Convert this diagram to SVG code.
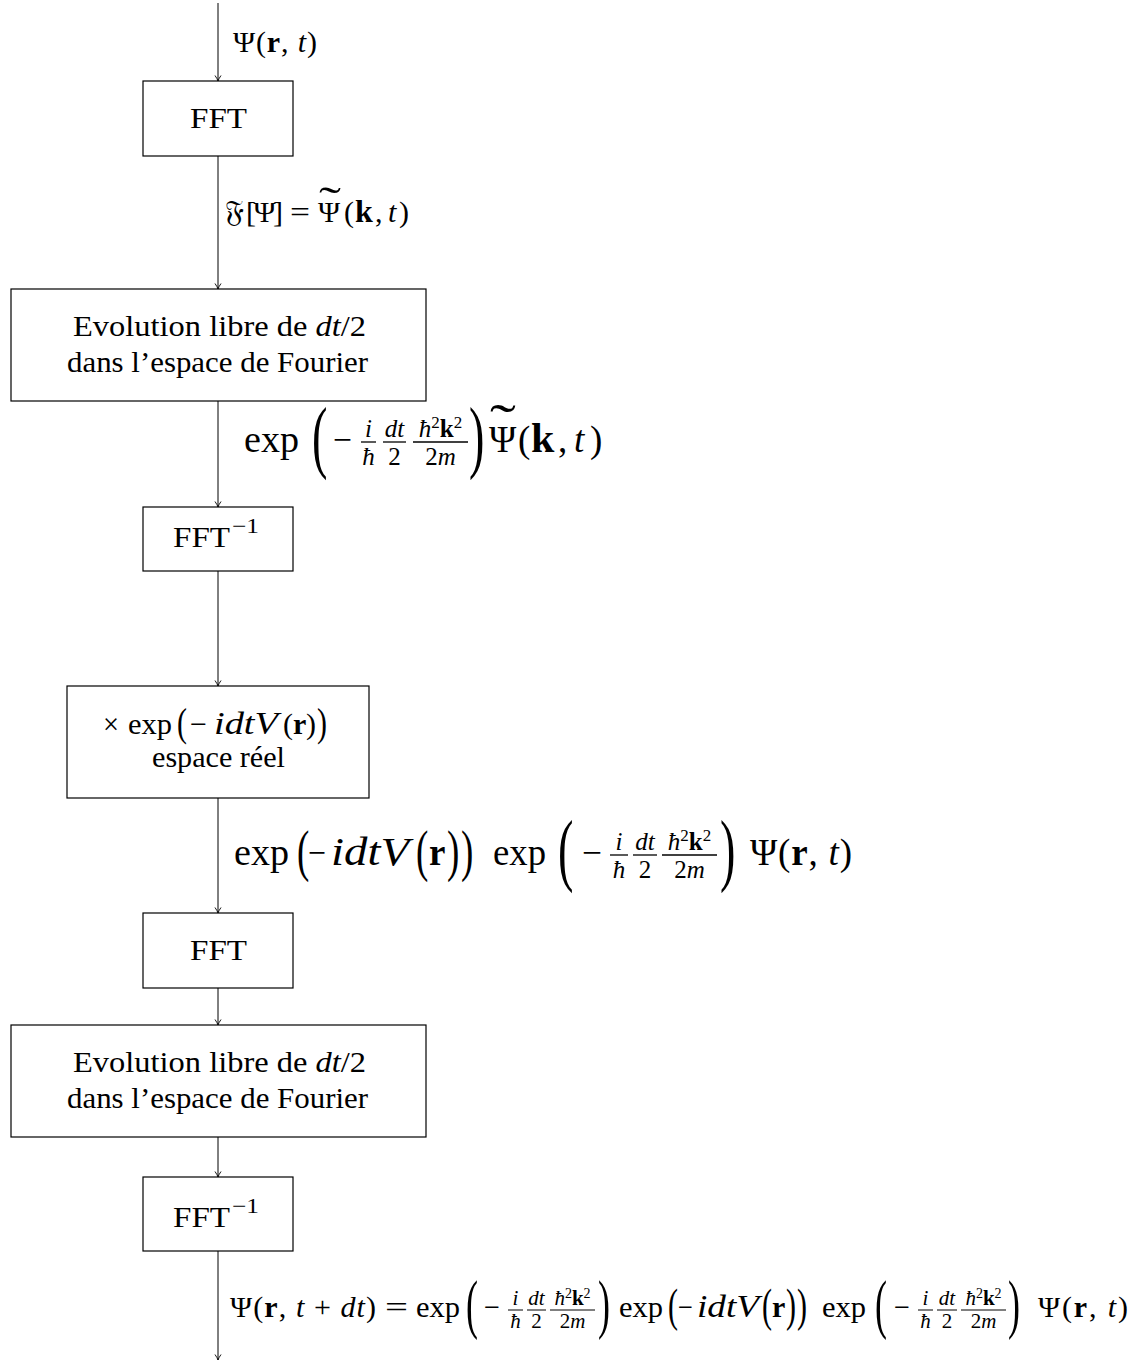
<svg xmlns="http://www.w3.org/2000/svg" width="1135" height="1362" viewBox="0 0 1135 1362">
<defs>
<style>
text{font-family:"Liberation Serif","DejaVu Serif",serif;fill:#000}
.n{font-size:30px}
.L{font-size:37px}
.fr{font-size:25px}
.fs{font-size:21px}
.sup{font-size:17px}
.sups{font-size:14px}
.it{font-style:italic}
.bf{font-weight:bold}
.box{fill:#fff;stroke:#000;stroke-width:1.2}
.edge{stroke:#000;stroke-width:1;fill:none;marker-end:url(#arr)}
.bar{stroke:#000;stroke-width:1.3}
.bar2{stroke:#000;stroke-width:1}
</style>
<marker id="arr" viewBox="-7 -4 8 8" refX="0" refY="0" markerWidth="8" markerHeight="8" markerUnits="userSpaceOnUse" orient="auto">
<path d="M-5.5,-3 Q-2,-0.6 0,0 Q-2,0.6 -5.5,3" fill="none" stroke="#000" stroke-width="0.9"/>
</marker>
</defs>
<rect width="1135" height="1362" fill="#fff"/>

<g id="connectors">
 <g id="e1">
  <line class="edge" x1="218" y1="3" x2="218" y2="81"/>
  <text class="n" x="233" y="52" textLength="84" lengthAdjust="spacing">Ψ(<tspan class="bf">r</tspan>, <tspan class="it">t</tspan>)</text>
 </g>
 <g id="e2">
  <line class="edge" x1="218" y1="156" x2="218" y2="289"/>
  <text class="n" x="225" y="222">𝔉</text>
  <text class="n" x="246" y="222" textLength="37" lengthAdjust="spacing">[Ψ]</text>
  <text class="n" x="290" y="222" textLength="20" lengthAdjust="spacingAndGlyphs">=</text>
  <text class="n" x="318" y="222">Ψ</text>
  <text class="n" text-anchor="middle" transform="translate(330,190) scale(2.2,1.4)" x="0" y="18.6">˜</text>
  <text class="n" y="222"><tspan x="344">(</tspan><tspan x="355" class="bf" font-size="32">k</tspan><tspan x="375">,</tspan><tspan x="388" class="it">t</tspan><tspan x="399">)</tspan></text>
 </g>
 <g id="e3">
  <line class="edge" x1="218" y1="401" x2="218" y2="507"/>
  <text class="L" x="244" y="452" textLength="55" lengthAdjust="spacingAndGlyphs">exp</text>
  <text class="L" transform="translate(312,443) scale(1.25,2.15)" x="0" y="9.2">(</text>
  <text class="L" x="333" y="452" textLength="19" lengthAdjust="spacingAndGlyphs">−</text>
  <line class="bar" x1="361" y1="442" x2="376" y2="442"/>
  <text class="fr it" text-anchor="middle" x="368.5" y="437">i</text>
  <text class="fr it" text-anchor="middle" x="368.5" y="465">ħ</text>
  <line class="bar" x1="383" y1="442" x2="406" y2="442"/>
  <text class="fr it" text-anchor="middle" x="394.5" y="437">dt</text>
  <text class="fr" text-anchor="middle" x="394.5" y="465">2</text>
  <line class="bar" x1="413" y1="442" x2="468" y2="442"/>
  <text class="fr" text-anchor="middle" x="440.5" y="437"><tspan class="it">ħ</tspan><tspan class="sup" dy="-9">2</tspan><tspan class="bf" dy="9">k</tspan><tspan class="sup" dy="-9">2</tspan></text>
  <text class="fr" text-anchor="middle" x="440.5" y="465">2<tspan class="it">m</tspan></text>
  <text class="L" transform="translate(469,443) scale(1.25,2.15)" x="0" y="9.2">)</text>
  <text class="L" x="489" y="452">Ψ</text>
  <text class="L" text-anchor="middle" transform="translate(503,409) scale(2.1,1.4)" x="0" y="22.9">˜</text>
  <text class="L" y="452"><tspan x="518">(</tspan><tspan x="531" class="bf" font-size="42">k</tspan><tspan x="558">,</tspan><tspan x="574" class="it">t</tspan><tspan x="590">)</tspan></text>
 </g>
 <g id="e4">
  <line class="edge" x1="218" y1="571" x2="218" y2="686"/>
 </g>
 <g id="e5">
  <line class="edge" x1="218" y1="798" x2="218" y2="913"/>
  <text class="L" x="234" y="865" textLength="55" lengthAdjust="spacingAndGlyphs">exp</text>
  <text class="L" transform="translate(297,856) scale(1,1.52)" x="0" y="9.2">(</text>
  <text class="L" x="308" y="865" textLength="18" lengthAdjust="spacingAndGlyphs">−</text>
  <text class="it" font-size="40" x="331" y="865" textLength="78" lengthAdjust="spacingAndGlyphs">idtV</text>
  <text class="L" transform="translate(416,856) scale(1,1.52)" x="0" y="9.2">(</text>
  <text class="L bf" x="429" y="865">r</text>
  <text class="L" transform="translate(447,856) scale(1,1.52)" x="0" y="9.2">)</text>
  <text class="L" transform="translate(461,856) scale(1,1.52)" x="0" y="9.2">)</text>
  <text class="L" x="493" y="865" textLength="53" lengthAdjust="spacingAndGlyphs">exp</text>
  <text class="L" transform="translate(558,856) scale(1.25,2.2)" x="0" y="9.2">(</text>
  <text class="L" x="582" y="865" textLength="20" lengthAdjust="spacingAndGlyphs">−</text>
  <line class="bar" x1="610" y1="855" x2="628" y2="855"/>
  <text class="fr it" text-anchor="middle" x="619" y="850">i</text>
  <text class="fr it" text-anchor="middle" x="619" y="878">ħ</text>
  <line class="bar" x1="633" y1="855" x2="657" y2="855"/>
  <text class="fr it" text-anchor="middle" x="645" y="850">dt</text>
  <text class="fr" text-anchor="middle" x="645" y="878">2</text>
  <line class="bar" x1="662" y1="855" x2="717" y2="855"/>
  <text class="fr" text-anchor="middle" x="689.5" y="850"><tspan class="it">ħ</tspan><tspan class="sup" dy="-9">2</tspan><tspan class="bf" dy="9">k</tspan><tspan class="sup" dy="-9">2</tspan></text>
  <text class="fr" text-anchor="middle" x="689.5" y="878">2<tspan class="it">m</tspan></text>
  <text class="L" transform="translate(720,856) scale(1.25,2.2)" x="0" y="9.2">)</text>
  <text class="L" x="750" y="865" textLength="102" lengthAdjust="spacing">Ψ(<tspan class="bf">r</tspan>, <tspan class="it">t</tspan>)</text>
 </g>
 <g id="e6">
  <line class="edge" x1="218" y1="988" x2="218" y2="1025"/>
 </g>
 <g id="e7">
  <line class="edge" x1="218" y1="1137" x2="218" y2="1177"/>
 </g>
 <g id="e8">
  <line class="edge" x1="218" y1="1251" x2="218" y2="1360"/>
  <text class="n" x="230" y="1317" textLength="146" lengthAdjust="spacing">Ψ(<tspan class="bf">r</tspan>, <tspan class="it">t</tspan> + <tspan class="it">dt</tspan>)</text>
  <text class="n" x="385" y="1317" textLength="23" lengthAdjust="spacingAndGlyphs">=</text>
  <text class="n" x="416" y="1317" textLength="44" lengthAdjust="spacingAndGlyphs">exp</text>
  <text class="n" transform="translate(466,1310) scale(1.2,2.19)" x="0" y="7.5">(</text>
  <text class="n" x="484" y="1317" textLength="16" lengthAdjust="spacingAndGlyphs">−</text>
  <line class="bar2" x1="508" y1="1310" x2="523" y2="1310"/>
  <text class="fs it" text-anchor="middle" x="515.5" y="1305">i</text>
  <text class="fs it" text-anchor="middle" x="515.5" y="1328">ħ</text>
  <line class="bar2" x1="527" y1="1310" x2="546" y2="1310"/>
  <text class="fs it" text-anchor="middle" x="536.5" y="1305">dt</text>
  <text class="fs" text-anchor="middle" x="536.5" y="1328">2</text>
  <line class="bar2" x1="550" y1="1310" x2="595" y2="1310"/>
  <text class="fs" text-anchor="middle" x="572.5" y="1305"><tspan class="it">ħ</tspan><tspan class="sups" dy="-7">2</tspan><tspan class="bf" dy="7">k</tspan><tspan class="sups" dy="-7">2</tspan></text>
  <text class="fs" text-anchor="middle" x="572.5" y="1328">2<tspan class="it">m</tspan></text>
  <text class="n" transform="translate(598,1310) scale(1.2,2.19)" x="0" y="7.5">)</text>
  <text class="n" x="619" y="1317" textLength="44" lengthAdjust="spacingAndGlyphs">exp</text>
  <text class="n" transform="translate(668,1310) scale(1,1.52)" x="0" y="7.5">(</text>
  <text class="n" x="678" y="1317" textLength="15" lengthAdjust="spacingAndGlyphs">−</text>
  <text class="it" font-size="32" x="697" y="1317" textLength="62" lengthAdjust="spacingAndGlyphs">idtV</text>
  <text class="n" transform="translate(762,1310) scale(1,1.52)" x="0" y="7.5">(</text>
  <text class="n bf" x="772" y="1317">r</text>
  <text class="n" transform="translate(786,1310) scale(1,1.52)" x="0" y="7.5">)</text>
  <text class="n" transform="translate(797,1310) scale(1,1.52)" x="0" y="7.5">)</text>
  <text class="n" x="822" y="1317" textLength="44" lengthAdjust="spacingAndGlyphs">exp</text>
  <text class="n" transform="translate(875,1310) scale(1.2,2.19)" x="0" y="7.5">(</text>
  <text class="n" x="894" y="1317" textLength="16" lengthAdjust="spacingAndGlyphs">−</text>
  <line class="bar2" x1="918" y1="1310" x2="933" y2="1310"/>
  <text class="fs it" text-anchor="middle" x="925.5" y="1305">i</text>
  <text class="fs it" text-anchor="middle" x="925.5" y="1328">ħ</text>
  <line class="bar2" x1="937" y1="1310" x2="957" y2="1310"/>
  <text class="fs it" text-anchor="middle" x="947" y="1305">dt</text>
  <text class="fs" text-anchor="middle" x="947" y="1328">2</text>
  <line class="bar2" x1="961" y1="1310" x2="1006" y2="1310"/>
  <text class="fs" text-anchor="middle" x="983.5" y="1305"><tspan class="it">ħ</tspan><tspan class="sups" dy="-7">2</tspan><tspan class="bf" dy="7">k</tspan><tspan class="sups" dy="-7">2</tspan></text>
  <text class="fs" text-anchor="middle" x="983.5" y="1328">2<tspan class="it">m</tspan></text>
  <text class="n" transform="translate(1008,1310) scale(1.2,2.19)" x="0" y="7.5">)</text>
  <text class="n" x="1038" y="1317" textLength="90" lengthAdjust="spacing">Ψ(<tspan class="bf">r</tspan>, <tspan class="it">t</tspan>)</text>
 </g>
</g>

<g id="fft1">
 <rect class="box" x="143" y="81" width="150" height="75"/>
 <text class="n" x="190" y="128" textLength="57" lengthAdjust="spacingAndGlyphs">FFT</text>
</g>
<g id="evol1">
 <rect class="box" x="11" y="289" width="415" height="112"/>
 <text class="n" x="73" y="336" textLength="293" lengthAdjust="spacingAndGlyphs">Evolution libre de <tspan class="it">dt</tspan>/2</text>
 <text class="n" x="67" y="372" textLength="301" lengthAdjust="spacingAndGlyphs">dans l’espace de Fourier</text>
</g>
<g id="ifft1">
 <rect class="box" x="143" y="507" width="150" height="64"/>
 <text class="n" x="173" y="547" textLength="57" lengthAdjust="spacingAndGlyphs">FFT</text>
 <text class="fs" x="232" y="533" textLength="27" lengthAdjust="spacingAndGlyphs">−1</text>
</g>
<g id="potential">
 <rect class="box" x="67" y="686" width="302" height="112"/>
 <text class="n" x="103" y="734" textLength="16" lengthAdjust="spacingAndGlyphs">×</text>
 <text class="n" x="128" y="734" textLength="44" lengthAdjust="spacingAndGlyphs">exp</text>
 <text class="n" transform="translate(177,726) scale(1,1.33)" x="0" y="7.5">(</text>
 <text class="n" x="190" y="734" textLength="17" lengthAdjust="spacingAndGlyphs">−</text>
 <text class="it" font-size="32" x="214" y="734" textLength="64" lengthAdjust="spacingAndGlyphs">idtV</text>
 <text class="n" x="283" y="734">(</text>
 <text class="n bf" x="293" y="734">r</text>
 <text class="n" x="306" y="734">)</text>
 <text class="n" transform="translate(317,726) scale(1,1.33)" x="0" y="7.5">)</text>
 <text class="n" x="152" y="767" textLength="133" lengthAdjust="spacingAndGlyphs">espace réel</text>
</g>
<g id="fft2">
 <rect class="box" x="143" y="913" width="150" height="75"/>
 <text class="n" x="190" y="960" textLength="57" lengthAdjust="spacingAndGlyphs">FFT</text>
</g>
<g id="evol2">
 <rect class="box" x="11" y="1025" width="415" height="112"/>
 <text class="n" x="73" y="1072" textLength="293" lengthAdjust="spacingAndGlyphs">Evolution libre de <tspan class="it">dt</tspan>/2</text>
 <text class="n" x="67" y="1108" textLength="301" lengthAdjust="spacingAndGlyphs">dans l’espace de Fourier</text>
</g>
<g id="ifft2">
 <rect class="box" x="143" y="1177" width="150" height="74"/>
 <text class="n" x="173" y="1227" textLength="57" lengthAdjust="spacingAndGlyphs">FFT</text>
 <text class="fs" x="232" y="1213" textLength="27" lengthAdjust="spacingAndGlyphs">−1</text>
</g>
</svg>
